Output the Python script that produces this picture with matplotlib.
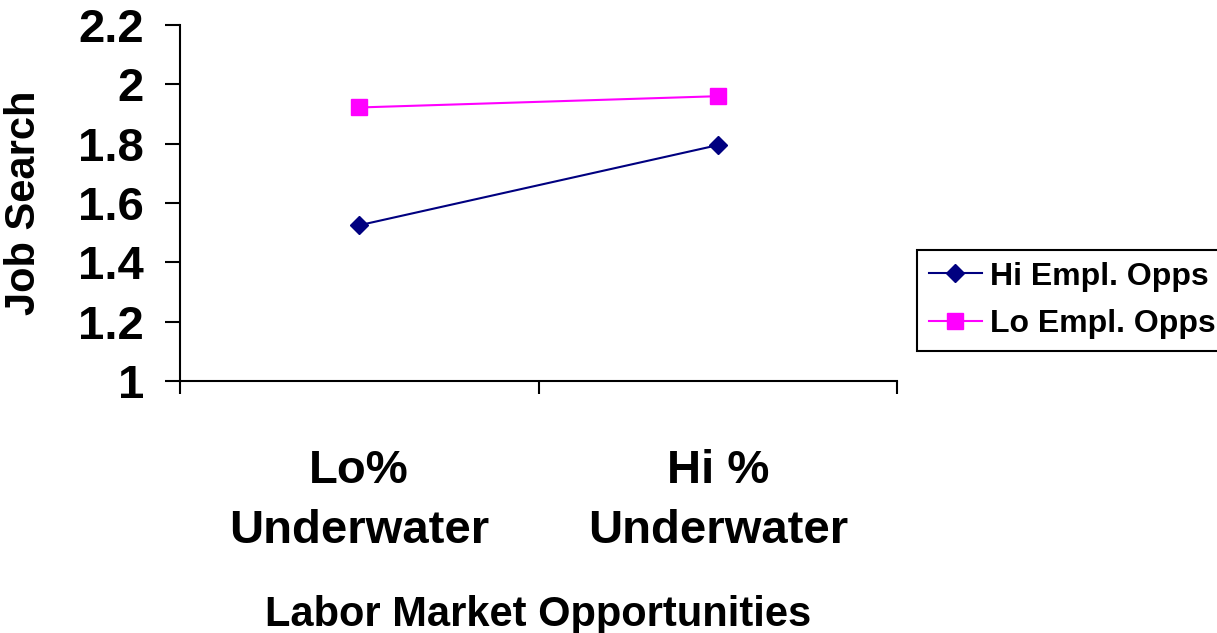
import matplotlib
matplotlib.use("Agg")
import matplotlib.pyplot as plt

plt.rcParams['font.family'] = ['Liberation Sans', 'DejaVu Sans']
plt.rcParams['font.weight'] = 'bold'

categories = ["Lo%\nUnderwater", "Hi %\nUnderwater"]
hi_empl = [1.525, 1.795]
lo_empl = [1.922, 1.96]
series_names = ["Hi Empl. Opps", "Lo Empl. Opps"]
y_ticks = [1, 1.2, 1.4, 1.6, 1.8, 2, 2.2]
y_tick_labels = ["1", "1.2", "1.4", "1.6", "1.8", "2", "2.2"]

W, H = 1217, 633
fig = plt.figure(figsize=(W / 100, H / 100), dpi=100)
ax = fig.add_axes([180 / W, 1 - 381 / H, (897 - 180) / W, (381 - 25) / H])

xpos = [0.5, 1.5]
ax.plot(xpos, hi_empl, color='#000080', lw=1.5, marker='D', markersize=9,
        label=series_names[0])
ax.plot(xpos, lo_empl, color='#FF00FF', lw=1.5, marker='s', markersize=11,
        label=series_names[1])

ax.set_xlim(0, 2)
ax.set_ylim(1, 2.2)
for s in ['top', 'right']:
    ax.spines[s].set_visible(False)
for s in ['left', 'bottom']:
    ax.spines[s].set_linewidth(1.5)

ax.set_yticks(y_ticks)
ax.set_yticklabels(y_tick_labels, fontsize=34, fontweight='bold')
ax.tick_params(axis='y', direction='out', length=11, width=1.5, pad=15)

ax.set_xticks([0, 1, 2])
ax.set_xticklabels([])
ax.tick_params(axis='x', which='major', direction='out', length=9, width=1.5)
ax.set_xticks(xpos, minor=True)
ax.set_xticklabels(categories, minor=True, fontsize=34, fontweight='bold',
                   linespacing=1.48)
ax.tick_params(axis='x', which='minor', length=0, pad=49)

ax.set_ylabel("Job Search", fontsize=30, fontweight='bold')
ax.yaxis.set_label_coords(-0.19, 0.5)
ax.set_xlabel("Labor Market Opportunities", fontsize=30, fontweight='bold')
ax.xaxis.set_label_coords(0.5, -0.60)

leg = fig.legend(loc='upper left', bbox_to_anchor=(917 / W, 1 - 250 / H),
                 fontsize=23, frameon=True, fancybox=False, framealpha=1,
                 edgecolor='black', handlelength=1.66, handletextpad=0.25,
                 labelspacing=0.55, borderpad=0.36, borderaxespad=0)
leg.get_frame().set_linewidth(1.5)
for t in leg.get_texts():
    t.set_fontweight('bold')

fig.savefig("out.png", dpi=100)
